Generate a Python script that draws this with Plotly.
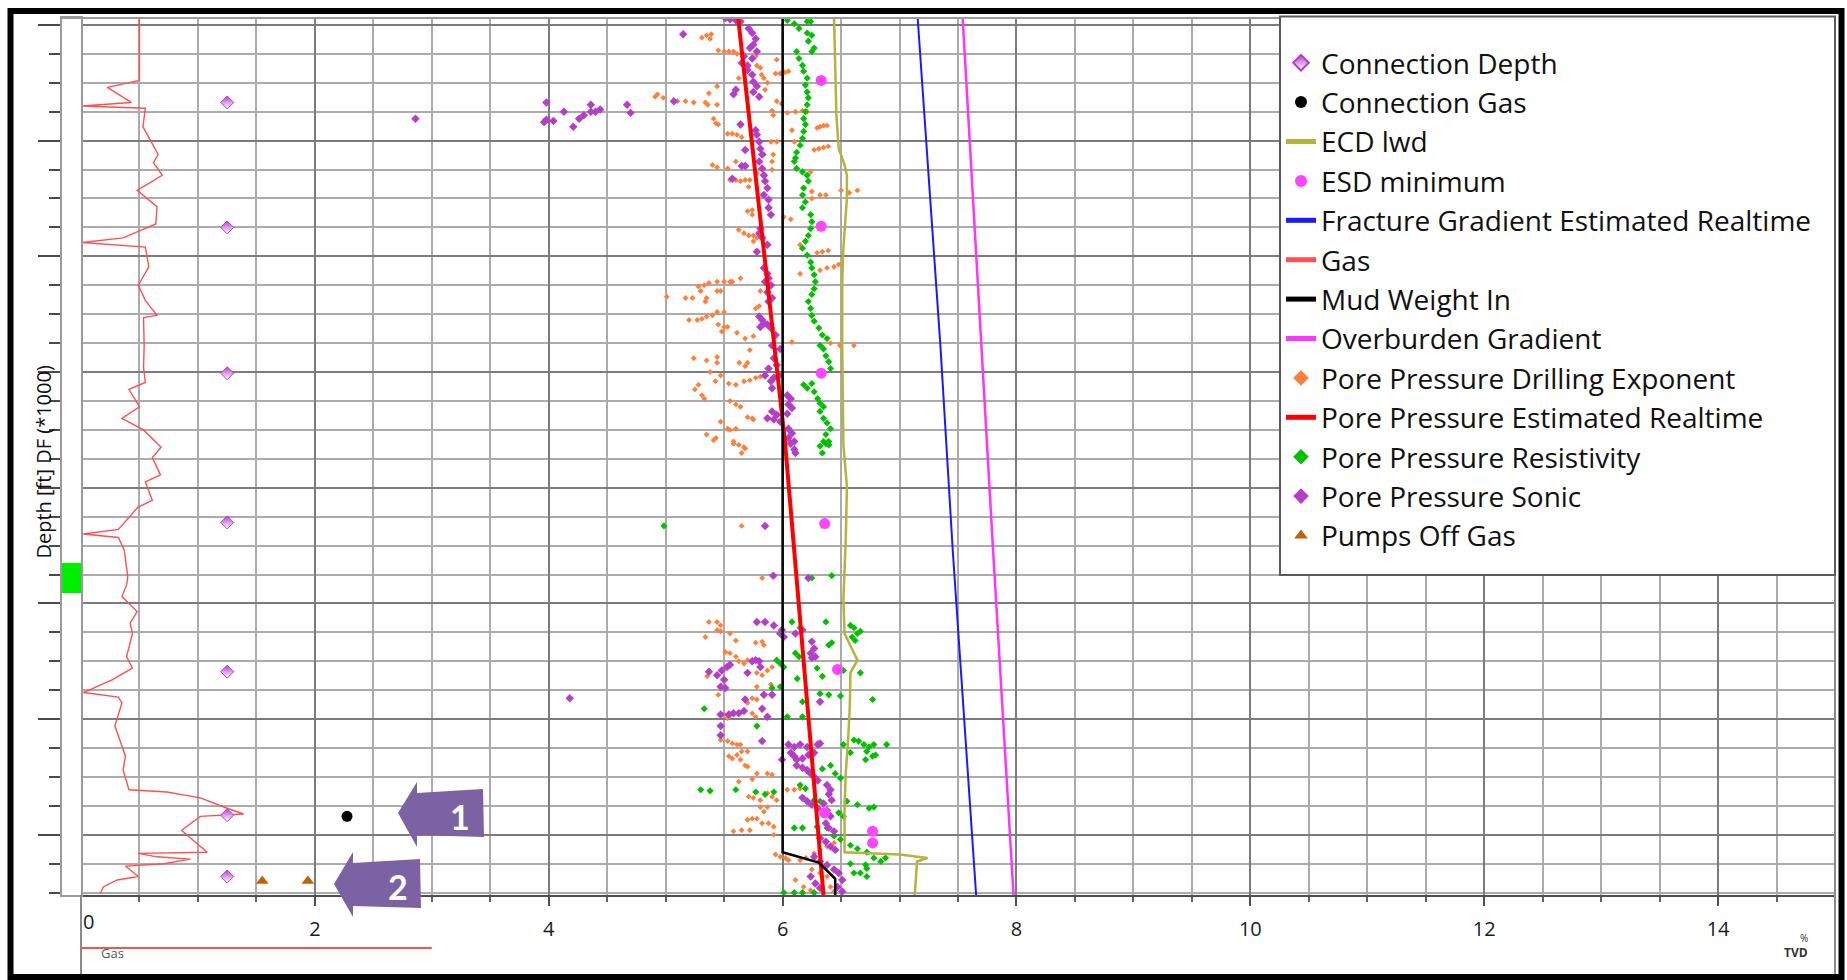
import plotly.graph_objects as go

W, H = 1847, 980

# ---------------- data (depth in ft, values in ppg-equivalent / gas %) ----------------
pp_dxc_val = [5.31, 5.35, 5.39, 5.38, 5.45, 5.50, 5.54, 5.58, 5.61, 5.77, 5.78, 5.81, 5.82, 5.84,
              5.95, 5.94, 5.98, 6.02, 6.05, 5.625, 5.87, 5.85, 5.44, 5.37, 5.44, 5.36, 4.93, 4.91, 4.98,
              5.10, 5.17, 5.24, 5.34, 5.95, 5.99, 5.92, 5.91, 6.04, 6.11, 6.17, 6.21, 5.41, 5.43, 5.45,
              5.53, 5.57, 5.61, 5.65, 6.295, 6.32, 6.35, 6.38, 6.08, 5.95, 5.90, 6.10, 6.27, 6.31, 6.35, 6.39,
              5.40, 5.44, 5.53, 5.60, 5.84, 5.92, 5.91, 5.91, 5.55, 5.60, 5.64, 5.68, 5.72, 5.71, 5.78,
              6.24, 6.25, 6.32, 6.37, 6.50, 6.57, 6.64, 6.25, 5.70, 5.74, 5.74, 6.01, 6.07,
              5.625, 5.67, 5.71, 5.75, 5.75, 5.78, 6.15, 6.295, 6.34, 6.39, 6.32, 6.38, 6.44, 6.48, 6.15,
              5.28, 5.33, 5.37, 5.44, 5.50, 5.55, 5.01, 5.17, 5.23, 5.30, 5.34, 5.35,
              5.44, 5.47, 5.64, 5.57, 5.81, 5.77, 5.80, 5.20, 5.27, 5.31, 5.35, 5.40, 5.44, 5.50,
              5.45, 5.50, 5.53, 5.48, 5.61, 5.68, 5.75, 5.72, 6.08, 6.41, 6.49, 6.61,
              5.24, 5.35, 5.44, 5.44, 5.38, 5.47, 5.63, 5.68, 5.70, 5.54, 5.60, 5.67, 5.72, 5.77, 5.81,
              5.28, 5.25, 5.31, 5.33, 5.425, 5.55, 5.60, 5.64, 5.70, 5.74, 5.75, 5.47, 5.53, 5.55, 5.60,
              5.35, 5.43, 5.58,
              5.58, 5.625, 5.67, 5.68, 5.65, 5.41, 5.65, 5.825,
              5.37, 5.44, 5.47, 5.44, 5.47, 5.34, 5.55, 5.60, 5.51, 5.55, 5.60, 5.625, 5.67, 5.70,
              5.77, 5.825, 5.84, 5.355, 5.78, 5.825, 5.87, 5.91, 5.78, 5.90, 5.45, 5.70, 5.74, 5.78,
              5.50, 5.53, 5.74, 5.77, 5.47, 5.53, 5.57, 5.61, 5.64, 5.54, 5.57, 5.61, 5.65, 5.70,
              5.64, 5.68, 5.70, 5.625, 5.74, 5.78, 5.87, 5.91, 5.71, 5.75, 5.81, 5.87, 5.91, 5.95,
              6.04, 6.10, 6.15, 5.81, 5.87, 5.84, 5.70, 5.74, 5.78, 5.825, 5.88, 5.925,
              5.58, 5.65, 5.72, 5.925, 5.94, 5.98, 6.025, 6.05, 6.15, 6.20, 6.27, 6.32, 6.38, 6.44,
              6.25, 6.32, 6.38, 6.41, 6.44, 6.11, 6.18, 6.24]
pp_dxc_depth = [9011, 9009, 9008, 9012, 9022, 9023, 9023, 9023, 9025, 9027, 9035, 9037, 9043, 9046,
                9030, 9042, 9042, 9041, 9040, 9046, 9050, 9056, 9053, 9059, 9069, 9069, 9060, 9062, 9063,
                9066, 9066, 9067, 9067, 9066, 9068, 9078, 9074, 9076, 9075, 9074, 9075, 9081, 9085, 9086,
                9094, 9094, 9095, 9097, 9089, 9088, 9087, 9087, 9091, 9101, 9101, 9101, 9108, 9107, 9106, 9105,
                9121, 9123, 9124, 9118, 9112, 9112, 9118, 9125, 9134, 9134, 9135, 9134, 9134, 9140, 9128,
                9127, 9144, 9147, 9147, 9143, 9145, 9143, 9150, 9161, 9160, 9164, 9166, 9168,
                9177, 9180, 9182, 9182, 9187, 9184, 9190, 9197, 9196, 9195, 9212, 9210, 9209, 9207, 9215,
                9226, 9225, 9223, 9222, 9222, 9222, 9235, 9236, 9236, 9230, 9239, 9236,
                9230, 9230, 9219, 9222, 9230, 9245, 9243, 9255, 9255, 9254, 9252, 9251, 9248, 9248,
                9259, 9261, 9261, 9265, 9266, 9271, 9269, 9281, 9274, 9275, 9277, 9277,
                9288, 9290, 9287, 9292, 9300, 9303, 9292, 9295, 9292, 9310, 9311, 9308, 9307, 9305, 9304,
                9311, 9315, 9320, 9323, 9308, 9325, 9328, 9330, 9339, 9340, 9341, 9343, 9349, 9350, 9349,
                9354, 9357, 9360,
                9362, 9363, 9365, 9366, 9370, 9359, 9433, 9478,
                9516, 9516, 9519, 9523, 9524, 9529, 9526, 9532, 9542, 9543, 9546, 9550, 9552, 9549,
                9534, 9533, 9536, 9563, 9560, 9562, 9558, 9555, 9572, 9570, 9579, 9586, 9582, 9583,
                9596, 9599, 9595, 9598, 9618, 9619, 9621, 9622, 9622, 9632, 9634, 9631, 9628, 9628,
                9635, 9640, 9641, 9654, 9652, 9647, 9647, 9648, 9667, 9668, 9670, 9664, 9667, 9670,
                9661, 9661, 9660, 9676, 9676, 9680, 9687, 9686, 9686, 9690, 9690, 9693,
                9697, 9696, 9696, 9700, 9717, 9719, 9720, 9722, 9722, 9720, 9716, 9713, 9710, 9707,
                9730, 9733, 9736, 9745, 9749, 9739, 9745, 9748]

pp_sonic_val = [5.51, 5.55, 5.60, 5.64, 5.15, 5.71, 5.74, 5.77, 5.75, 5.72, 5.78, 5.74, 5.70,
                5.67, 5.65, 5.70, 5.74, 5.75, 5.78, 5.75, 5.80, 5.58, 5.60, 4.67, 4.70, 5.07,
                2.86, 3.98, 3.96, 3.98, 4.04, 4.13, 4.21, 4.26, 4.30, 4.36, 4.36, 4.40, 4.44,
                5.64, 5.77, 5.78, 5.80, 5.81, 5.825, 5.80, 5.68, 5.65, 5.68,
                5.825, 5.84, 5.85, 5.87, 5.84, 5.88, 5.57, 5.88, 5.90,
                5.81, 5.80, 5.825, 5.78, 5.87, 5.84, 5.87, 5.88, 5.85, 5.90, 5.87, 5.91, 5.88,
                5.80, 5.825, 5.84, 5.87, 5.90, 5.81, 5.94, 5.91, 5.98,
                5.925, 5.95, 5.88, 5.85, 5.90, 5.925, 5.97, 5.91, 6.04, 6.07, 6.05, 6.08, 6.04,
                5.91, 5.87, 5.925, 5.95, 5.98, 6.05, 6.08, 6.05, 6.10, 6.07, 6.10, 6.11,
                5.85, 5.92, 6.22, 5.78, 5.85, 5.925, 5.995, 6.01, 5.98, 6.11, 6.17,
                6.25, 6.27, 6.24, 6.28, 6.25, 5.37, 5.44, 5.48, 5.525, 5.55, 5.47, 5.51, 5.50,
                5.74, 5.77, 5.80, 5.81, 5.70, 5.84, 5.91, 5.68, 5.47, 5.54, 5.58, 5.625, 5.67,
                5.825, 5.87, 6.32, 5.47, 5.47, 5.825, 5.995, 4.18,
                6.05, 6.10, 6.15, 6.21, 6.30, 6.32, 6.07, 6.10, 6.12, 6.17, 6.22, 6.27,
                6.12, 6.17, 6.21, 6.24, 6.27, 6.30, 6.38, 6.41, 6.395, 6.42, 6.17, 6.21, 6.25, 6.30,
                6.35, 6.38, 6.41, 6.37, 6.395, 6.44, 6.32, 6.37, 6.41, 6.45,
                6.27, 6.32, 6.38, 6.44, 6.48, 6.51, 6.47, 6.51, 6.24, 6.28, 6.32]
pp_sonic_depth = [8994, 8995, 8996, 8997, 9008, 9003, 9007, 9012, 9017, 9020, 9023, 9029, 9035,
                  9027, 9033, 9039, 9043, 9049, 9053, 9058, 9062, 9060, 9056, 9069, 9076, 9066,
                  9081, 9067, 9084, 9082, 9083, 9075, 9088, 9081, 9078, 9069, 9075, 9075, 9073,
                  9086, 9091, 9095, 9101, 9107, 9112, 9118, 9108, 9122, 9122,
                  9124, 9130, 9135, 9141, 9147, 9151, 9133, 9158, 9164,
                  9176, 9180, 9184, 9196, 9190, 9210, 9215, 9219, 9222, 9225, 9231, 9236, 9239,
                  9252, 9255, 9258, 9259, 9262, 9261, 9268, 9277, 9280,
                  9288, 9294, 9297, 9303, 9308, 9305, 9303, 9314, 9320, 9323, 9328, 9331, 9336,
                  9334, 9340, 9341, 9337, 9343, 9349, 9353, 9357, 9360, 9362, 9367, 9370,
                  9433, 9476, 9478, 9516, 9516, 9519, 9523, 9529, 9526, 9526, 9523,
                  9533, 9539, 9543, 9546, 9547, 9559, 9562, 9558, 9555, 9553, 9572, 9573, 9566,
                  9550, 9549, 9550, 9555, 9560, 9579, 9579, 9583, 9596, 9596, 9595, 9595, 9593,
                  9591, 9598, 9585, 9606, 9614, 9619, 9635, 9582,
                  9622, 9624, 9622, 9624, 9622, 9621, 9629, 9632, 9635, 9634, 9631, 9629,
                  9640, 9642, 9644, 9647, 9650, 9653, 9657, 9661, 9665, 9670, 9668, 9671, 9674, 9677,
                  9673, 9679, 9684, 9690, 9694, 9697, 9703, 9706, 9710, 9713,
                  9719, 9723, 9726, 9730, 9733, 9739, 9745, 9749, 9736, 9742, 9746]

pp_res_val = [6.04, 6.10, 6.14, 6.21, 6.24, 6.21, 6.25, 6.22, 6.25, 6.27,
              6.12, 6.14, 6.17, 6.18, 6.21, 6.195, 6.21, 6.22, 6.21, 6.195, 6.18, 6.195, 6.18, 6.17,
              6.15, 6.12, 6.11, 6.10, 6.12, 6.17, 6.21, 6.22, 6.18, 6.17, 6.195, 6.17,
              6.24, 6.25, 6.24, 6.22, 6.195, 6.17, 6.21, 6.24, 6.25, 6.27, 6.28, 6.27, 6.25, 6.22,
              6.24, 6.25, 6.27, 6.31, 6.34, 6.38, 6.32, 6.35, 6.37, 6.395, 6.41,
              6.18, 6.21, 6.25, 6.27, 6.30, 6.32, 6.35, 6.32, 6.35, 6.38, 6.41, 6.37, 6.395, 6.35,
              6.32, 6.37, 6.395, 6.34, 4.985, 6.25, 6.42, 6.08, 6.37, 6.15,
              6.58, 6.61, 6.64, 6.595, 6.62, 6.665, 6.395, 6.42, 6.11, 6.14, 5.95, 5.98, 6.01,
              6.295, 6.34, 6.52, 6.665, 6.125, 5.91, 5.98, 6.17, 6.32, 6.395, 6.495, 6.77,
              5.33, 5.55, 5.78, 6.04, 6.17,
              6.61, 6.65, 6.695, 6.74, 6.78, 6.89, 6.72, 6.77, 6.71, 6.795, 6.52, 6.58,
              6.34, 6.41, 6.495, 6.45, 5.30, 5.38, 5.60, 5.77, 5.85, 5.925,
              6.15, 6.195, 6.27, 6.32, 6.55, 6.64, 6.74, 6.78, 6.48, 6.52,
              6.10, 6.17, 6.295, 6.38, 6.44, 6.495, 6.58, 6.64, 6.72, 6.78, 6.84, 6.88,
              6.71, 6.72, 6.665, 6.72, 6.01, 6.10, 6.17, 6.27, 6.58, 6.61]
pp_res_depth = [8996, 8999, 9003, 8997, 8997, 9007, 9009, 9014, 9023, 9020,
                9023, 9029, 9035, 9040, 9046, 9052, 9058, 9063, 9069, 9075, 9081, 9086, 9092, 9098,
                9104, 9110, 9115, 9118, 9124, 9127, 9130, 9135, 9141, 9147, 9153, 9158,
                9164, 9170, 9176, 9182, 9187, 9193, 9199, 9205, 9210, 9216, 9222, 9228, 9233, 9239,
                9245, 9251, 9256, 9262, 9268, 9271, 9277, 9280, 9286, 9291, 9297,
                9311, 9314, 9310, 9317, 9323, 9327, 9330, 9334, 9340, 9344, 9349, 9354, 9360, 9360,
                9364, 9362, 9363, 9370, 9433, 9478, 9476, 9516, 9516, 9521,
                9519, 9521, 9526, 9529, 9532, 9524, 9536, 9534, 9543, 9546, 9549, 9552, 9555,
                9556, 9563, 9558, 9560, 9565, 9573, 9572, 9585, 9578, 9579, 9580, 9583,
                9591, 9596, 9606, 9598, 9598,
                9618, 9619, 9622, 9624, 9622, 9622, 9628, 9632, 9635, 9631, 9622, 9629,
                9643, 9640, 9651, 9647, 9661, 9662, 9661, 9663, 9665, 9663,
                9657, 9660, 9670, 9671, 9671, 9674, 9677, 9676, 9681, 9684,
                9694, 9694, 9693, 9694, 9701, 9704, 9709, 9712, 9715, 9720, 9723, 9720,
                9726, 9729, 9733, 9736, 9750, 9750, 9750, 9750, 9725, 9733]

pp_est_depth = [8994, 9360, 9752]
pp_est_val = [5.62, 6.02, 6.35]

mud_in_depth = [8994, 9715, 9724, 9738, 9752]
mud_in_val = [6.0, 6.0, 6.31, 6.45, 6.45]

ecd_depth = [8994, 9049, 9078, 9107, 9121, 9130, 9150, 9164, 9193, 9222, 9280, 9363, 9399, 9445,
             9497, 9526, 9537, 9549, 9560, 9589, 9618, 9647, 9676, 9715, 9717, 9720, 9723, 9735,
             9745, 9752]
ecd_val = [6.44, 6.45, 6.46, 6.48, 6.53, 6.55, 6.55, 6.54, 6.52, 6.51, 6.51, 6.52, 6.55, 6.54,
           6.52, 6.53, 6.58, 6.64, 6.58, 6.575, 6.56, 6.54, 6.53, 6.53, 7.0, 7.24, 7.15, 7.14,
           7.13, 7.13]

frac_depth = [8994, 9278, 9454, 9752]
frac_val = [7.155, 7.35, 7.455, 7.655]

obg_depth = [8994, 9278, 9454, 9752]
obg_val = [7.54, 7.70, 7.80, 7.975]

esd_depth = [9048, 9174, 9301, 9431, 9557, 9681, 9697, 9707]
esd_val = [6.33, 6.33, 6.33, 6.36, 6.47, 6.36, 6.77, 6.77]

conn_depth_depth = [9067, 9175, 9301, 9430, 9559, 9683, 9736]
conn_depth_val = [1.25] * 7

conn_gas_depth = [9684]
conn_gas_val = [2.275]

pumps_off_depth = [9740, 9740]
pumps_off_val = [1.55, 1.94]

gas_val = [0.50, 0.50, 0.225, 0.43, 0.01, 0.55, 0.53, 0.66, 0.62, 0.695, 0.48, 0.65, 0.64, 0.36,
           0.01, 0.55, 0.58, 0.49, 0.55, 0.65, 0.535, 0.54, 0.535, 0.55, 0.41, 0.50, 0.35, 0.535,
           0.685, 0.61, 0.68, 0.55, 0.61, 0.485, 0.32, 0.02, 0.32, 0.37, 0.40, 0.39, 0.35,
           0.38, 0.48, 0.42, 0.44, 0.39, 0.44, 0.265, 0.02, 0.32, 0.35, 0.29, 0.38, 0.36, 0.41,
           0.735, 1.02, 1.25, 1.39, 1.02, 0.86, 1.02, 1.08, 0.49, 0.65, 0.935, 0.71, 0.38, 0.49,
           0.31, 0.19, 0.165]
gas_depth = [8994, 9048, 9054, 9067, 9070, 9072, 9088, 9112, 9119, 9130, 9143, 9157, 9172, 9184,
             9188, 9192, 9209, 9225, 9238, 9251, 9253, 9278, 9296, 9309, 9315, 9330, 9340, 9350,
             9365, 9374, 9389, 9395, 9411, 9417, 9436, 9440, 9443, 9454, 9477, 9484, 9494,
             9497, 9507, 9517, 9526, 9546, 9556, 9566, 9577, 9581, 9586, 9606, 9632, 9644, 9661,
             9663, 9668, 9677, 9682, 9684, 9696, 9710, 9715, 9716, 9719, 9721, 9725, 9727, 9736,
             9739, 9745, 9751]

# depth marker shown in the narrow track left of the main grid
marker_top, marker_base = 9465, 9491

x_ticks = [0, 2, 4, 6, 8, 10, 12, 14]
depth_top, depth_bottom = 8994, 9752

# ---------------- layout helpers (pixel -> paper) ----------------
def fx(px):
    return px / W


def fy(py):
    return 1 - py / H


PLOT_L, PLOT_R, PLOT_T, PLOT_B = 81, 1835, 18, 895
STRIP_L = 62
FONT = "Open Sans"

PURPLE = "#b53ec8"
fig = go.Figure()


def add(trace, rank):
    trace.update(legendrank=rank)
    fig.add_trace(trace)


# scatter estimates
add(go.Scatter(x=pp_dxc_val, y=pp_dxc_depth, mode="markers", name="Pore Pressure Drilling Exponent",
               marker=dict(symbol="diamond", size=4.5, color="#ff7f3a")), 9)
add(go.Scatter(x=pp_res_val, y=pp_res_depth, mode="markers", name="Pore Pressure Resistivity",
               marker=dict(symbol="diamond", size=5.5, color="#00c000")), 11)
add(go.Scatter(x=pp_sonic_val, y=pp_sonic_depth, mode="markers", name="Pore Pressure Sonic",
               marker=dict(symbol="diamond", size=6.5, color=PURPLE)), 12)
# curves
add(go.Scatter(x=gas_val, y=gas_depth, mode="lines", name="Gas",
               line=dict(color="#ff5050", width=1.4)), 6)
add(go.Scatter(x=ecd_val, y=ecd_depth, mode="lines", name="ECD lwd",
               line=dict(color="#b4b43c", width=2.5)), 3)
add(go.Scatter(x=frac_val, y=frac_depth, mode="lines", name="Fracture Gradient Estimated Realtime",
               line=dict(color="#1a1aff", width=2)), 5)
add(go.Scatter(x=obg_val, y=obg_depth, mode="lines", name="Overburden Gradient",
               line=dict(color="#ff33ff", width=2.5)), 8)
add(go.Scatter(x=pp_est_val, y=pp_est_depth, mode="lines", name="Pore Pressure Estimated Realtime",
               line=dict(color="#ff0000", width=4)), 10)
add(go.Scatter(x=mud_in_val, y=mud_in_depth, mode="lines", name="Mud Weight In",
               line=dict(color="#000000", width=2.5)), 7)
# events
add(go.Scatter(x=esd_val, y=esd_depth, mode="markers", name="ESD minimum",
               marker=dict(symbol="circle", size=11, color="#ff44ff")), 4)
add(go.Scatter(x=conn_depth_val, y=conn_depth_depth, mode="markers", name="Connection Depth",
               marker=dict(symbol="diamond", size=10, color=PURPLE,
                           gradient=dict(type="vertical", color="white"),
                           line=dict(color=PURPLE, width=1))), 1)
add(go.Scatter(x=conn_gas_val, y=conn_gas_depth, mode="markers", name="Connection Gas",
               marker=dict(symbol="circle", size=11, color="#000000")), 2)
add(go.Scatter(x=pumps_off_val, y=pumps_off_depth, mode="markers", name="Pumps Off Gas",
               marker=dict(symbol="triangle-up", size=11, color="#c0600a")), 13)

shapes = []
# outer frame
shapes.append(dict(type="rect", xref="paper", yref="paper", x0=fx(10.5), x1=fx(1841.5), y0=fy(11), y1=fy(977),
                   line=dict(color="black", width=6), layer="above"))
# top border of the grid and right border of the track
shapes.append(dict(type="line", xref="paper", yref="paper", x0=fx(STRIP_L), x1=fx(PLOT_R), y0=fy(PLOT_T), y1=fy(PLOT_T),
                   line=dict(color="#9a9a9a", width=2)))
shapes.append(dict(type="line", xref="paper", yref="paper", x0=fx(PLOT_R), x1=fx(PLOT_R), y0=fy(PLOT_T), y1=fy(974),
                   line=dict(color="#8a8a8a", width=2)))
shapes.append(dict(type="line", xref="paper", yref="paper", x0=fx(PLOT_L), x1=fx(PLOT_L), y0=fy(PLOT_B), y1=fy(974),
                   line=dict(color="#8a8a8a", width=2)))
# gas scale bar below the axis (0 - 3)
shapes.append(dict(type="line", xref="paper", yref="paper", x0=fx(PLOT_L), x1=fx(PLOT_L + 3 * (PLOT_R - PLOT_L) / 15.0),
                   y0=fy(948), y1=fy(948), line=dict(color="#ff5050", width=2)))
# depth marker in the narrow track
shapes.append(dict(type="rect", xref="x2", yref="y2", x0=0, x1=1, y0=marker_top, y1=marker_base,
                   fillcolor="#00ee00", line=dict(width=0)))
# legend box
shapes.append(dict(type="rect", xref="paper", yref="paper", x0=fx(1280), x1=fx(PLOT_R), y0=fy(16.5), y1=fy(575),
                   fillcolor="white", line=dict(color="#5a5a5a", width=2), layer="above"))


def arrow_path(pts):
    return "M " + " L ".join(f"{fx(px):.5f},{fy(py):.5f}" for px, py in pts) + " Z"


arrow1 = [(398, 813), (417, 782), (417, 793), (483, 789), (484, 837), (417, 835), (417, 847)]
arrow2 = [(334, 884), (353, 852), (353, 863), (420, 859), (421, 908), (353, 906), (353, 917)]
for pts in (arrow1, arrow2):
    shapes.append(dict(type="path", xref="paper", yref="paper", path=arrow_path(pts),
                       fillcolor="#7b63a3", line=dict(width=0), layer="above"))

annotations = [
    dict(text="<b>1</b>", x=fx(448), y=fy(816), xref="paper", yref="paper", showarrow=False,
         yanchor="middle", font=dict(family="Lato", size=34, color="white")),
    dict(text="<b>2</b>", x=fx(386), y=fy(886), xref="paper", yref="paper", showarrow=False,
         yanchor="middle", font=dict(family="Lato", size=34, color="white")),
    dict(text="0", x=0, xref="x", y=fy(921), yref="paper", xanchor="left", yanchor="middle", showarrow=False,
         font=dict(family=FONT, size=20, color="#1a1a1a")),
    dict(text="Gas", x=fx(99), y=fy(964), xref="paper", yref="paper", xanchor="left", showarrow=False,
         font=dict(family=FONT, size=13, color="#555555")),
    dict(text="%", x=fx(1810), y=fy(947), xref="paper", yref="paper", showarrow=False,
         font=dict(family=FONT, size=10, color="#333333")),
    dict(text="<b>TVD</b>", x=fx(1810), y=fy(963), xref="paper", yref="paper", showarrow=False,
         font=dict(family=FONT, size=12, color="#333333")),
    dict(text="Depth [ft] DF (*1000)", x=fx(27), y=fy(462), xref="paper", yref="paper", textangle=-90,
         showarrow=False, font=dict(family=FONT, size=20, color="#111111")),
]

fig.update_layout(
    width=W, height=H, margin=dict(l=0, r=0, t=0, b=0),
    paper_bgcolor="white", plot_bgcolor="white",
    font=dict(family=FONT, color="#1a1a1a"),
    shapes=shapes, annotations=annotations,
    showlegend=True,
    legend=dict(x=fx(1281), y=fy(38), xanchor="left", yanchor="top", bgcolor="rgba(0,0,0,0)",
                borderwidth=0, font=dict(family=FONT, size=28, color="#111111"),
                itemsizing="constant", traceorder="normal"),
    xaxis=dict(domain=[fx(PLOT_L), fx(PLOT_R)], anchor="y", range=[0, 15.0],
               tickmode="array", tickvals=x_ticks, ticktext=[""] + [str(v) for v in x_ticks[1:]],
               ticks="outside", ticklen=9, tickwidth=2, tickcolor="#505050",
               tickfont=dict(family=FONT, size=20, color="#1a1a1a"), ticklabelstandoff=6,
               showgrid=True, gridcolor="#7c7c7c", gridwidth=2,
               minor=dict(tickmode="linear", tick0=0, dtick=0.5, ticks="outside", ticklen=5, tickwidth=2,
                          tickcolor="#606060", showgrid=True, gridcolor="#ababab", gridwidth=1.6),
               showline=True, linecolor="#505050", linewidth=2, zeroline=False),
    yaxis=dict(domain=[fy(PLOT_B), fy(PLOT_T)], anchor="x", range=[depth_bottom, depth_top],
               tick0=9000, dtick=100, showticklabels=False, ticks="",
               showgrid=True, gridcolor="#7c7c7c", gridwidth=2,
               minor=dict(tick0=9000, dtick=25, showgrid=True, gridcolor="#ababab", gridwidth=1.6),
               zeroline=False, showline=False),
    xaxis2=dict(domain=[fx(STRIP_L), fx(PLOT_L)], anchor="y2", range=[0, 1], showticklabels=False,
                ticks="", showgrid=False, zeroline=False, showline=True, mirror=True,
                linecolor="#9a9a9a", linewidth=1.5),
    yaxis2=dict(domain=[fy(PLOT_B), fy(PLOT_T)], anchor="x2", matches="y", range=[depth_bottom, depth_top],
                tick0=9000, dtick=100, showticklabels=False, ticks="outside", ticklen=22, tickwidth=2,
                tickcolor="#4a4a4a", showgrid=False, zeroline=False,
                minor=dict(tick0=9000, dtick=25, ticks="outside", ticklen=11, tickwidth=2,
                           tickcolor="#4a4a4a", showgrid=False),
                showline=True, mirror=True, linecolor="#9a9a9a", linewidth=1.5),
)

fig.write_html("out.html")
